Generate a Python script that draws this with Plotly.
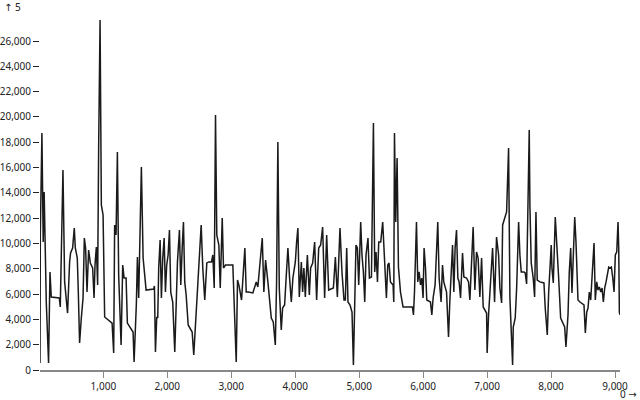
import plotly.graph_objects as go

# values
x_vals = [
    10, 15, 40, 60, 75, 92, 108, 144, 166, 186, 312, 327, 343, 369, 395, 441, 473, 488, 520, 546,
    562, 593, 609, 629, 656, 683, 703, 723, 745, 770, 797, 833, 855, 870, 891, 911, 927, 949, 969, 996,
    1021, 1137, 1162, 1177, 1199, 1220, 1240, 1278, 1303, 1325, 1356, 1376, 1465, 1481, 1517, 1533, 1553, 1595, 1622, 1642,
    1669, 1788, 1799, 1815, 1835, 1851, 1866, 1888, 1908, 1929, 1951, 1971, 1991, 2013, 2034, 2054, 2085, 2117, 2139, 2159,
    2190, 2211, 2233, 2253, 2273, 2295, 2327, 2358, 2389, 2414, 2441, 2461, 2483, 2508, 2530, 2555, 2586, 2618, 2649, 2691,
    2712, 2734, 2754, 2774, 2806, 2828, 2859, 2879, 2910, 3025, 3047, 3078, 3098, 3119, 3161, 3181, 3213, 3234, 3266, 3338,
    3369, 3391, 3416, 3454, 3485, 3510, 3537, 3573, 3626, 3657, 3689, 3709, 3729, 3751, 3782, 3803, 3834, 3861, 3886, 3912,
    3939, 3964, 4002, 4022, 4042, 4064, 4096, 4116, 4136, 4158, 4190, 4221, 4241, 4273, 4304, 4335, 4367, 4398, 4429, 4460,
    4492, 4523, 4565, 4597, 4628, 4659, 4700, 4731, 4763, 4784, 4805, 4825, 4857, 4888, 4910, 4930, 4950, 4972, 4993, 5024,
    5044, 5066, 5087, 5107, 5138, 5160, 5192, 5223, 5243, 5264, 5286, 5306, 5337, 5368, 5389, 5426, 5447, 5467, 5489, 5530,
    5541, 5552, 5572, 5593, 5614, 5646, 5686, 5833, 5849, 5865, 5896, 5916, 5937, 5959, 5979, 5999, 6015, 6037, 6057, 6115,
    6136, 6156, 6187, 6209, 6229, 6250, 6281, 6303, 6323, 6366, 6397, 6417, 6438, 6460, 6480, 6500, 6522, 6543, 6563, 6585,
    6616, 6637, 6679, 6710, 6731, 6762, 6782, 6809, 6835, 6860, 6887, 6914, 6939, 6992, 7001, 7023, 7044, 7064, 7086, 7117,
    7148, 7180, 7200, 7227, 7243, 7305, 7336, 7357, 7377, 7399, 7409, 7440, 7462, 7482, 7493, 7513, 7534, 7576, 7596, 7618,
    7638, 7659, 7670, 7690, 7721, 7743, 7764, 7784, 7826, 7889, 7909, 7941, 7963, 7983, 8003, 8014, 8035, 8066, 8088, 8119,
    8150, 8191, 8213, 8233, 8265, 8285, 8307, 8327, 8348, 8370, 8390, 8421, 8452, 8515, 8536, 8558, 8578, 8598, 8620, 8641,
    8672, 8692, 8714, 8734, 8755, 8777, 8797, 8818, 8839, 8860, 8880, 8902, 8922, 8943, 8965, 8985, 9005, 9027, 9047, 9058,
    9068, 9078,
]
y_vals = [
    550, 10670, 18730, 10120, 14070, 10120, 5370, 550, 7750, 5770, 5690, 4980, 9640, 15810, 6960, 4500, 8540, 9250, 9640, 11220,
    9640, 8850, 6160, 2130, 4110, 5690, 10430, 9640, 6160, 9480, 8460, 8060, 5690, 8300, 9720, 6720, 17550, 27660, 13040, 12250,
    4190, 3710, 1340, 11460, 10670, 17230, 7510, 1980, 8300, 7270, 7270, 3710, 3000, 630, 5300, 8930, 5690, 16040, 8850, 7510,
    6320, 6400, 6640, 1420, 4190, 4110, 8060, 10270, 5690, 8850, 10430, 6160, 8300, 9090, 11060, 6160, 5370, 1420, 6160, 8540,
    11060, 6720, 9640, 11700, 6960, 5930, 3560, 3320, 3000, 1190, 3560, 5370, 8060, 9880, 11460, 8060, 5530, 8460, 8540, 8540,
    9090, 6480, 20150, 10670, 9880, 6480, 12010, 8060, 8300, 8300, 5370, 630, 7110, 6720, 5530, 7270, 9640, 6160, 6160, 6090,
    6560, 6960, 6560, 8540, 10430, 6160, 8690, 6960, 4110, 3790, 1980, 6960, 18020, 6480, 3160, 4900, 5140, 7510, 9640, 7270,
    5370, 7270, 8540, 10120, 11220, 5770, 8540, 6160, 8060, 5770, 9090, 5930, 8060, 8460, 10120, 5530, 9640, 9880, 11300, 5690,
    10670, 6320, 6400, 6480, 8930, 5770, 11220, 7750, 5530, 5530, 9640, 5370, 5140, 4580, 400, 4900, 9880, 9640, 6720, 11700,
    9090, 7750, 5370, 9090, 10430, 7270, 7350, 19520, 7750, 9330, 6960, 10120, 10120, 11700, 9090, 5690, 8300, 8460, 6960, 6720,
    5370, 18730, 11700, 16750, 8140, 6160, 4980, 4980, 4350, 6160, 11700, 6960, 7750, 6720, 7270, 5690, 9640, 8060, 5530, 5370,
    4350, 5690, 6720, 9090, 11700, 7270, 5370, 8300, 6960, 6160, 2610, 5370, 7750, 9880, 6160, 9640, 11060, 7270, 6960, 5690,
    9250, 7350, 7270, 6960, 5530, 9880, 11300, 6320, 9330, 8850, 5770, 8850, 4980, 4500, 1340, 4350, 6160, 8060, 9640, 5370,
    10510, 9090, 6480, 5300, 11460, 12490, 17550, 5690, 3320, 400, 3400, 4110, 6480, 9090, 11700, 9090, 7750, 7750, 7670, 6800,
    14070, 18970, 12880, 8460, 7270, 5770, 12490, 7110, 6960, 6880, 4900, 2770, 6160, 7900, 9880, 8060, 6880, 12090, 9640, 7270,
    4110, 3560, 3400, 1820, 4350, 7750, 9640, 6090, 9640, 12090, 10120, 5530, 5370, 5140, 2920, 4580, 4900, 6160, 5530, 7750,
    10040, 5530, 6960, 6320, 6560, 6160, 6480, 5370, 6480, 6960, 7510, 8140, 8060, 8140, 7270, 6160, 9090, 9330, 11700, 9640,
    4580, 4350,
]

x_ticks = [1000, 2000, 3000, 4000, 5000, 6000, 7000, 8000, 9000]
y_ticks = [0, 2000, 4000, 6000, 8000, 10000, 12000, 14000, 16000, 18000, 20000, 22000, 24000, 26000]

fig = go.Figure()
fig.add_trace(
    go.Scatter(
        x=x_vals, y=y_vals, mode="lines",
        line=dict(color="#1a1a1a", width=1.5),
        hoverinfo="skip", showlegend=False,
    )
)

fig.update_layout(
    width=640, height=400,
    margin=dict(l=40, r=20, t=20, b=30),
    paper_bgcolor="white", plot_bgcolor="white",
    font=dict(family="Noto Sans, DejaVu Sans", size=10, color="#222"),
    xaxis=dict(
        range=[10, 9078], tickvals=x_ticks,
        ticktext=[f"{v:,}" for v in x_ticks],
        showgrid=False, zeroline=False, automargin=False,
        showline=True, linecolor="#888", linewidth=2,
        ticks="outside", ticklen=6, tickcolor="#888", tickwidth=1,
    ),
    yaxis=dict(
        range=[0, 27660], tickvals=y_ticks,
        ticktext=[f"{v:,}" for v in y_ticks],
        showgrid=False, zeroline=False, showline=False, automargin=False,
        ticks="outside", ticklen=6, tickcolor="#222", tickwidth=1,
    ),
    annotations=[
        dict(text="↑ 5", xref="paper", yref="paper", x=-38 / 580, y=1 + 13 / 350,
             xanchor="left", yanchor="middle", showarrow=False, font=dict(size=10)),
        dict(text="0 →", xref="paper", yref="paper", x=1 + 19 / 580, y=-24 / 350,
             xanchor="right", yanchor="middle", showarrow=False, font=dict(size=10)),
    ],
)

# drop the page's default body margin so the figure sits at the window corner
fig.write_html(
    "out.html",
    config={"displayModeBar": False},
    post_script="document.body.style.margin = '0';",
)
